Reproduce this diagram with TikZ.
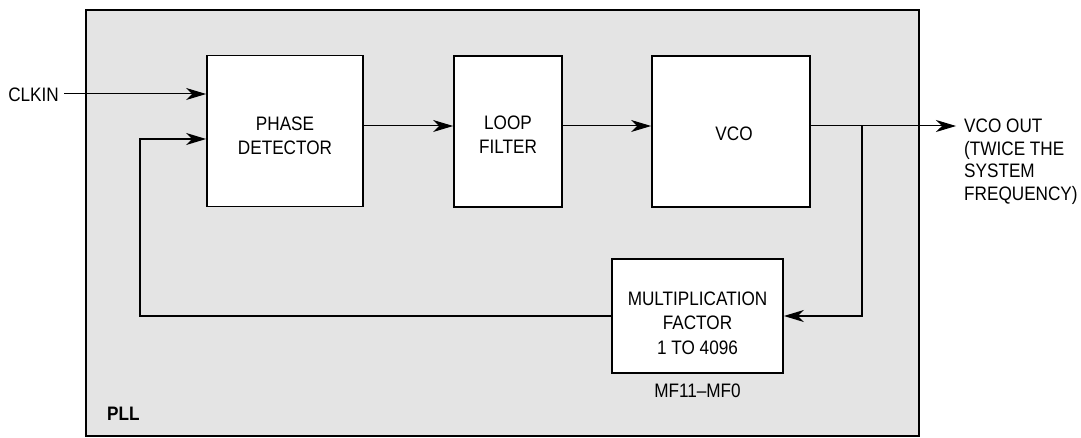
\documentclass[tikz,border=0pt]{standalone}
\usepackage{fontspec}
\setmainfont{Liberation Sans}[FakeStretch=0.88]
\usetikzlibrary{arrows.meta}
\definecolor{bgc}{RGB}{228,228,228}
\begin{document}
\begin{tikzpicture}[x=1pt,y=-1pt,
  txt/.style={font=\fontsize{19.5}{23.5}\selectfont, align=center, inner sep=0pt},
  blk/.style={draw, line width=1.8pt, fill=white, minimum width=#1, minimum height=151pt, inner sep=0pt},
  fwd/.style={line width=1pt, -{Stealth[length=20pt,width=12pt,inset=6pt]}},
  fbk/.style={line width=2pt, -{Stealth[length=20pt,width=12pt,inset=6pt]}},
  ]
\useasboundingbox (0,0) rectangle (1081,438);
\node[draw, line width=2.5pt, fill=bgc, minimum width=833pt, minimum height=426pt, inner sep=0pt] (pll) at (502.5,223) {};
\node[blk=156pt] (pd) at (285,131) {};
\node[blk=108pt] (lf) at (508,131.5) {};
\node[blk=158pt] (vco) at (731,131.5) {};
\node[draw, line width=1.8pt, fill=white, minimum width=171pt, minimum height=114pt, inner sep=0pt] (mf) at (697.5,316) {};
\node[txt] (pdt) at (285,136) {PHASE\\DETECTOR};
\node[txt] (lft) at (508,134.5) {LOOP\\FILTER};
\node[txt] (vcot) at (734,134) {VCO};
\node[txt, font=\fontsize{19.5}{24.5}\selectfont] (mft) at (697.5,323) {MULTIPLICATION\\FACTOR\\1 TO 4096};
\node[txt, anchor=base] (mfl) at (697.5,397) {MF11–MF0};
\node[txt, anchor=base west, font=\fontsize{19.5}{23}\selectfont\bfseries] (pllt) at (107,420) {PLL};
\node[txt, anchor=east] (clk) at (59,94.5) {CLKIN};
\coordinate (clks) at (64,94);
\coordinate (j) at (862,126);
\coordinate (fb) at (140,139);
\coordinate (out) at (956,126);
\node[txt, anchor=north west, align=left, font=\fontsize{19.5}{22.8}\selectfont] (outt) at (964,118.5) {VCO OUT\\(TWICE THE\\SYSTEM\\FREQUENCY)};
\draw[fwd] (clks) -- (clks -| pd.west);
\draw[fwd] (pd.east |- 0,126) -- (lf.west |- 0,126);
\draw[fwd] (lf.east |- 0,126) -- (vco.west |- 0,126);
\draw[fwd] (vco.east |- 0,126) -- (out);
\draw[fbk] (j) |- (mf.east);
\draw[fbk] (mf.west) -| (fb) -- (fb -| pd.west);
\end{tikzpicture}
\end{document}
